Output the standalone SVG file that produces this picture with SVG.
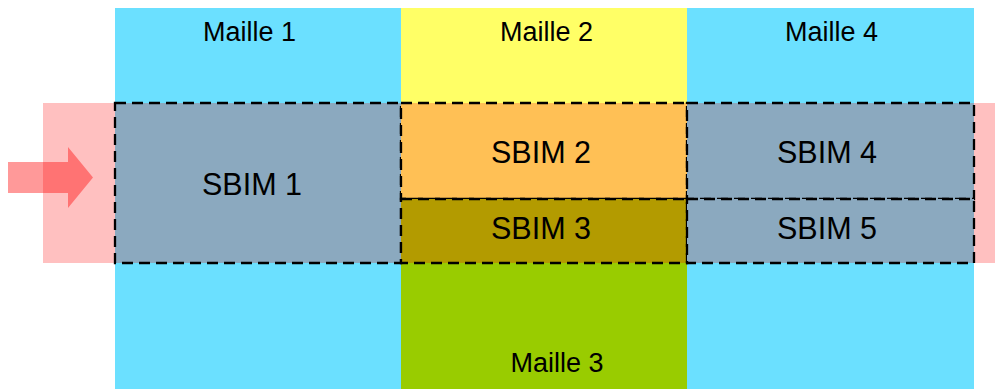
<svg xmlns="http://www.w3.org/2000/svg" width="995" height="389" viewBox="0 0 995 389">
<defs>
<style>
.lbl{font-family:"Liberation Sans",Arial,sans-serif;fill:#000;text-anchor:middle}
.m{font-size:27px}
.s{font-size:30.5px}
.sb{stroke:#000;stroke-width:2.3;stroke-dasharray:11 6}
</style>
</defs>
<rect width="995" height="389" fill="#fff"/>
<g id="maille1"><rect x="115" y="8" width="286" height="381" fill="#6BE0FF"/><text class="lbl m" x="249.5" y="40.5">Maille 1</text></g>
<g id="maille2"><rect x="401" y="8" width="286" height="255" fill="#FFFF66"/><text class="lbl m" x="546.5" y="40.5">Maille 2</text></g>
<g id="maille3"><rect x="401" y="263" width="286" height="126" fill="#99CC00"/><text class="lbl m" x="557" y="372">Maille 3</text></g>
<g id="maille4"><rect x="687" y="8" width="287" height="381" fill="#6BE0FF"/><text class="lbl m" x="831.5" y="40.5">Maille 4</text></g>
<g id="flux"><rect x="43" y="103" width="952" height="160" fill="#FFC0C0"/></g>
<g id="sbim1"><rect class="sb" x="115" y="103" width="286" height="160" fill="#8BA9BF"/><text class="lbl s" x="252" y="194.5">SBIM 1</text></g>
<g id="sbim2"><rect class="sb" x="401" y="103" width="286" height="96" fill="#FFC055"/><text class="lbl s" x="541" y="163">SBIM 2</text></g>
<g id="sbim3"><rect class="sb" x="401" y="199" width="286" height="64" fill="#B39B00"/><text class="lbl s" x="541" y="238.5">SBIM 3</text></g>
<g id="sbim4"><rect class="sb" x="687" y="103" width="287" height="96" fill="#8BA9BF"/><text class="lbl s" x="827" y="162.5">SBIM 4</text></g>
<g id="sbim5"><rect class="sb" x="687" y="199" width="287" height="64" fill="#8BA9BF"/><text class="lbl s" x="827" y="238.5">SBIM 5</text></g>
<g id="connectors"><polygon points="8,162 68,162 68,147 93,177.5 68,208 68,193 8,193" fill="#FF0000" fill-opacity="0.4"/></g>
</svg>
